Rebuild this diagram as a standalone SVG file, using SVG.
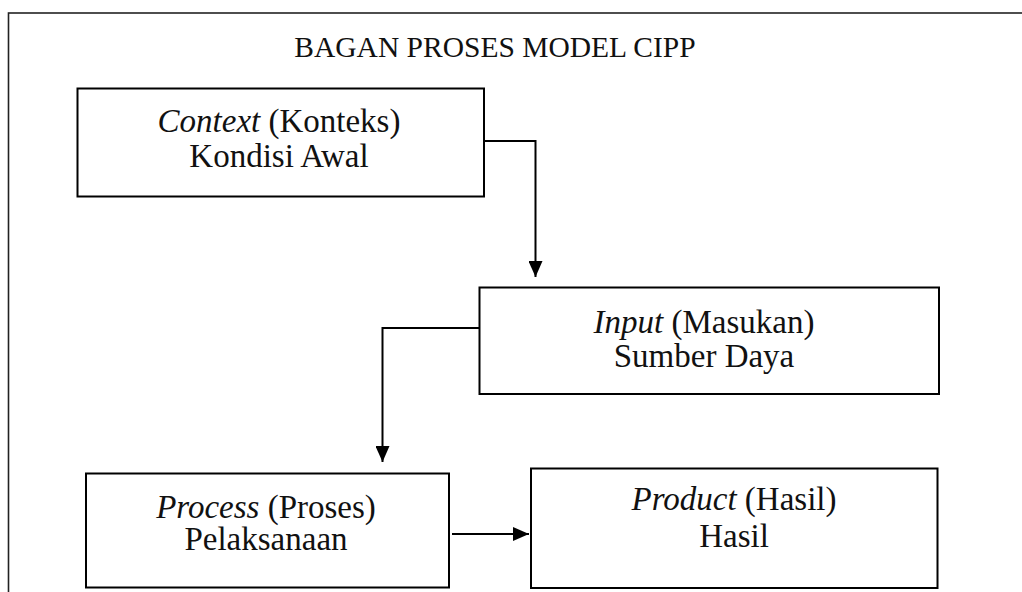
<svg xmlns="http://www.w3.org/2000/svg" width="1022" height="592" viewBox="0 0 1022 592">
<style>
  .box { fill: #fff; stroke: #000; stroke-width: 2; }
  .t { font-family: "Liberation Serif", "DejaVu Serif", serif; font-size: 33px; fill: #111; text-anchor: middle; }
  .i { font-style: italic; }
  .conn { fill: none; stroke: #000; stroke-width: 2; }
</style>
<defs>
  <marker id="arr" viewBox="0 0 16 14" refX="16" refY="7" markerWidth="16" markerHeight="14" markerUnits="userSpaceOnUse" orient="auto">
    <path d="M0,0 L16,7 L0,14 z" fill="#000"/>
  </marker>
</defs>
<rect x="0" y="0" width="1022" height="592" fill="#fff"/>
<rect x="8.5" y="13" width="1030" height="600" fill="none" stroke="#222" stroke-width="1.6"/>
<text class="t" x="495" y="57" style="font-size:29.5px">BAGAN PROSES MODEL CIPP</text>
<g id="context">
  <rect class="box" x="77.5" y="88.5" width="406.5" height="108"/>
  <text class="t" x="279" y="132"><tspan class="i">Context</tspan> (Konteks)</text>
  <text class="t" x="279" y="167">Kondisi Awal</text>
</g>
<g id="input">
  <rect class="box" x="479.5" y="287.5" width="459.5" height="106.5"/>
  <text class="t" x="704" y="333"><tspan class="i">Input</tspan> (Masukan)</text>
  <text class="t" x="704" y="367">Sumber Daya</text>
</g>
<g id="process">
  <rect class="box" x="86" y="473.5" width="363" height="114"/>
  <text class="t" x="266" y="518"><tspan class="i">Process</tspan> (Proses)</text>
  <text class="t" x="266" y="550">Pelaksanaan</text>
</g>
<g id="product">
  <rect class="box" x="531" y="468.5" width="406.5" height="119.5"/>
  <text class="t" x="734" y="510"><tspan class="i">Product</tspan> (Hasil)</text>
  <text class="t" x="734" y="547">Hasil</text>
</g>
<g id="connectors">
  <polyline class="conn" points="484,141 535.5,141 535.5,277" marker-end="url(#arr)"/>
  <polyline class="conn" points="479.5,328 382.5,328 382.5,462" marker-end="url(#arr)"/>
  <line class="conn" x1="452" y1="534" x2="529" y2="534" marker-end="url(#arr)"/>
</g>
</svg>
